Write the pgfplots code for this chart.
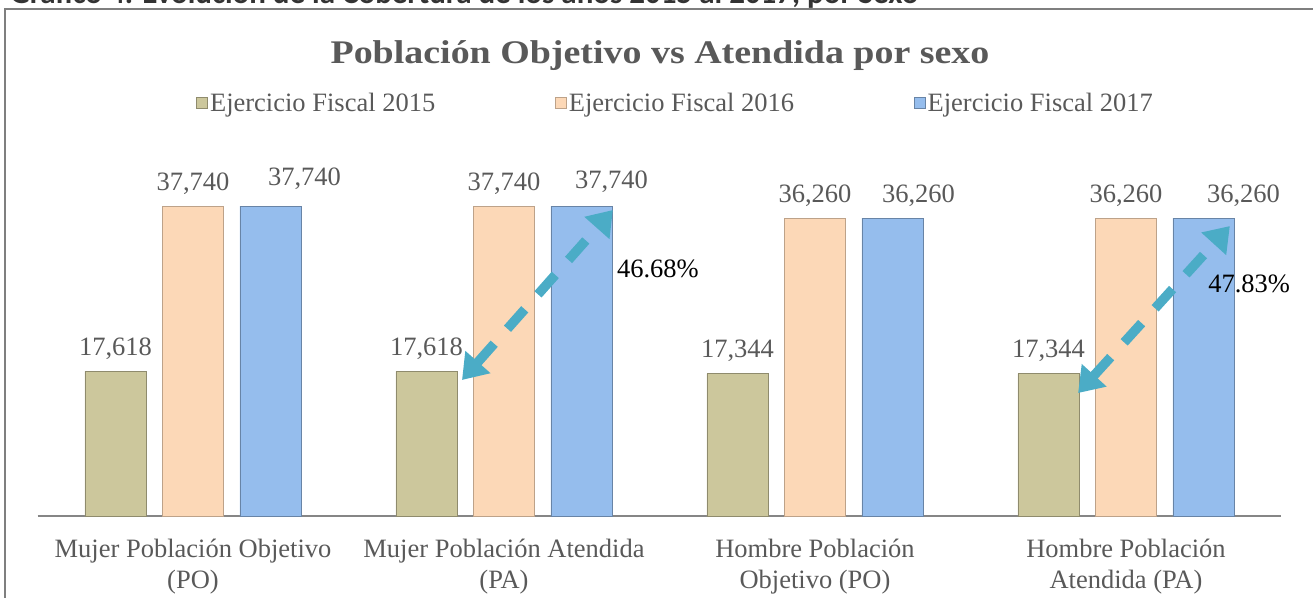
\documentclass[border=0pt]{standalone}
\usepackage{fontspec}
\setmainfont{Liberation Serif}
\newfontfamily\titlefont[FakeStretch=1.15]{Liberation Serif}
\newfontfamily\headfont{Carlito}
\usepackage{pgfplots}
\pgfplotsset{compat=1.18}
\usetikzlibrary{arrows.meta}
\definecolor{txt}{HTML}{595959}
\definecolor{axgray}{HTML}{868686}
\definecolor{framegray}{HTML}{7F7F7F}
\definecolor{c15}{HTML}{CCC79C}
\definecolor{c16}{HTML}{FCD8B7}
\definecolor{c17}{HTML}{95BDED}
\definecolor{arr}{HTML}{4BACC6}

\begin{document}
\begin{tikzpicture}
\useasboundingbox (0pt,0pt) rectangle (1313pt,-597pt);
% header of the page, cut at the top
\node[anchor=base west, inner sep=0pt, text=black!80,
      font=\headfont\bfseries\fontsize{31}{36}\selectfont] at (10pt,-3.5pt)
  {Gráfico 4. Evolución de la Cobertura de los años 2015 al 2017, por Sexo};
\draw[framegray, line width=2pt] (1330pt,-9pt) -- (5pt,-9pt) -- (5pt,-620pt);
\node[anchor=base, inner sep=0pt, text=txt,
      font=\titlefont\bfseries\fontsize{33}{38}\selectfont] at (660pt,-63pt)
  {Población Objetivo vs Atendida por sexo};

\begin{axis}[
  at={(37.5pt,-516pt)}, anchor=south west,
  scale only axis, width=1244pt, height=356pt,
  xmin=-0.5, xmax=3.5, ymin=0, ymax=43340,
  clip=false,
  hide y axis,
  axis x line*=bottom,
  x axis line style={draw=axgray, line width=2pt, -},
  xtick={0,1,2,3},
  xticklabels={Mujer Población Objetivo\\(PO), Mujer Población Atendida\\(PA),
               Hombre Población\\Objetivo (PO), Hombre Población\\Atendida (PA)},
  major tick length=0pt,
  xticklabel style={font=\fontsize{26.5}{31}\selectfont, text=txt, align=center, yshift=-20pt},
  /pgf/number format/.cd, fixed, precision=0, 1000 sep={,}, assume math mode=true,
  /pgfplots/.cd,
  every node near coord/.append style={font=\fontsize{26.5}{30}\selectfont, text=txt, yshift=8pt},
  legend columns=3,
  legend style={at={(0.513,1.160)}, anchor=center, draw=none, fill=none,
                font=\fontsize{26.5}{30}\selectfont, text=txt,
                /tikz/every even column/.append style={column sep=118pt}},
  legend image code/.code={\draw[#1, line width=0.6pt] (0pt,-5.5pt) rectangle (11pt,5.5pt);},
]
  \addplot[ybar, bar width=61pt, bar shift=-77.5pt, fill=c15, draw=c15!70!black,
           nodes near coords,
           every node near coord/.append style={xshift=-77.5pt}]
    coordinates {(0,17618) (1,17618) (2,17344) (3,17344)};
  \addplot[ybar, bar width=61pt, bar shift=0pt, fill=c16, draw=c16!75!black,
           nodes near coords]
    coordinates {(0,37740) (1,37740) (2,36260) (3,36260)};
  \addplot[ybar, bar width=61pt, bar shift=77.5pt, fill=c17, draw=c17!70!black,
           nodes near coords,
           visualization depends on={value \thisrow{dx} \as \dx},
           visualization depends on={value \thisrow{dy} \as \dy},
           every node near coord/.append style={xshift=77.5pt+\dx pt, yshift=\dy pt}]
    table {
      x y     dx dy
      0 37740 34 5
      1 37740 30 2
      2 36260 26 0
      3 36260 40 0
    };
  \legend{Ejercicio Fiscal 2015, Ejercicio Fiscal 2016, Ejercicio Fiscal 2017}

  % coverage arrows
  \addplot[arr, line width=9.5pt, dash pattern=on 26pt off 20pt, sharp plot, no markers,
           {Triangle[length=24pt,width=32pt]}-{Triangle[length=24pt,width=32pt]}]
    coordinates {(0.865,16560) (1.350,37250)};
  \addplot[arr, line width=9.5pt, dash pattern=on 26pt off 20pt, sharp plot, no markers,
           {Triangle[length=24pt,width=32pt]}-{Triangle[length=24pt,width=32pt]}]
    coordinates {(2.846,14970) (3.334,35300)};

  \node[anchor=west, inner sep=0pt, font=\fontsize{26.5}{30}\selectfont]
    at (axis cs:1.363,30070) {46.68\%};
  \node[anchor=west, inner sep=0pt, font=\fontsize{26.5}{30}\selectfont]
    at (axis cs:3.264,28240) {47.83\%};
\end{axis}
\end{tikzpicture}
\end{document}
